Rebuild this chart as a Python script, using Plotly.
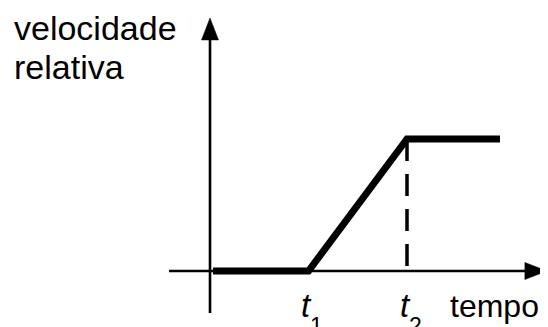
import plotly.graph_objects as go

# ---- data (conceptual units: time in t-units, velocity relative to plateau) ----
T_POINTS = [0.03, 1.0, 2.0, 2.944]      # time values of the velocity profile
V_POINTS = [0.0, 0.0, 1.0, 1.0]         # relative velocity values
TICK_VALUES = [1.0, 2.0]                # t1, t2
TICK_NAMES = ["t", "t"]
TICK_SUBS = ["1", "2"]
X_AXIS_EXTENT = [-0.416, 3.42]          # horizontal axis: start, arrow tip
Y_AXIS_EXTENT = [-0.318, 1.917]         # vertical axis: start, arrow tip
Y_LABEL = ["velocidade", "relativa"]
X_LABEL = "tempo"

W, H = 548, 327
OFF = 8  # default page body margin
ORIGIN_PX = (210 - OFF, 271 - OFF)
UX, UY = 98.5, 132.0
X_RANGE = [-ORIGIN_PX[0] / UX, (W - ORIGIN_PX[0]) / UX]
Y_RANGE = [(ORIGIN_PX[1] - H) / UY, ORIGIN_PX[1] / UY]


def px(x):
    return (x - OFF) / W


def py(y):
    return 1 - (y - OFF) / H


FONT = "Liberation Sans, Arial, sans-serif"

fig = go.Figure()

# axes lines
AX_W = 2.6
fig.add_shape(type="line", xref="x", yref="y",
              x0=X_AXIS_EXTENT[0], x1=X_AXIS_EXTENT[1] - 15 / UX, y0=0, y1=0,
              line=dict(color="black", width=AX_W))
fig.add_shape(type="line", xref="x", yref="y",
              x0=0, x1=0, y0=Y_AXIS_EXTENT[0], y1=Y_AXIS_EXTENT[1] - 15 / UY,
              line=dict(color="black", width=AX_W))
# arrow heads (pixel sized, anchored at the tips)
fig.add_shape(type="path", xref="x", yref="y", xsizemode="pixel", ysizemode="pixel",
              xanchor=X_AXIS_EXTENT[1], yanchor=0,
              path="M0,0 L-22,8.5 L-22,-8.5 Z",
              fillcolor="black", line=dict(color="black", width=0.5))
fig.add_shape(type="path", xref="x", yref="y", xsizemode="pixel", ysizemode="pixel",
              xanchor=0, yanchor=Y_AXIS_EXTENT[1],
              path="M0,0 L-8.5,-22 L8.5,-22 Z",
              fillcolor="black", line=dict(color="black", width=0.5))

# dashed line at t2
fig.add_trace(go.Scatter(x=[TICK_VALUES[1], TICK_VALUES[1]], y=[V_POINTS[2], 0],
                         mode="lines", line=dict(color="black", width=3.5, dash="22px,13px"),
                         hoverinfo="skip"))
# velocity profile
fig.add_trace(go.Scatter(x=T_POINTS, y=V_POINTS, mode="lines",
                         line=dict(color="black", width=7), hoverinfo="skip"))

# labels
fig.add_annotation(x=px(12), y=py(27.6), xref="paper", yref="paper",
                   xanchor="left", yanchor="middle", showarrow=False,
                   text=Y_LABEL[0], font=dict(family=FONT, size=34, color="black"))
fig.add_annotation(x=px(12), y=py(66.6), xref="paper", yref="paper",
                   xanchor="left", yanchor="middle", showarrow=False,
                   text=Y_LABEL[1], font=dict(family=FONT, size=34, color="black"))
fig.add_annotation(x=px(448), y=py(305.6), xref="paper", yref="paper",
                   xanchor="left", yanchor="middle", showarrow=False,
                   text=X_LABEL, font=dict(family=FONT, size=32, color="black"))

for tv, name, sub in zip(TICK_VALUES, TICK_NAMES, TICK_SUBS):
    fig.add_annotation(x=tv, y=0, xref="x", yref="y", xshift=-2, yshift=-(305.6 - 271),
                       xanchor="center", yanchor="middle", showarrow=False,
                       text="<i>" + name + "</i>", font=dict(family=FONT, size=33, color="black"))
    fig.add_annotation(x=tv, y=0, xref="x", yref="y", xshift=8, yshift=-(325.5 - 271),
                       xanchor="center", yanchor="middle", showarrow=False,
                       text=sub, font=dict(family=FONT, size=23, color="black"))

fig.update_layout(
    width=W, height=H, margin=dict(l=0, r=0, t=0, b=0),
    paper_bgcolor="white", plot_bgcolor="white", showlegend=False,
    xaxis=dict(range=X_RANGE, visible=False, fixedrange=True),
    yaxis=dict(range=Y_RANGE, visible=False, fixedrange=True),
)

fig.write_html("out.html")
